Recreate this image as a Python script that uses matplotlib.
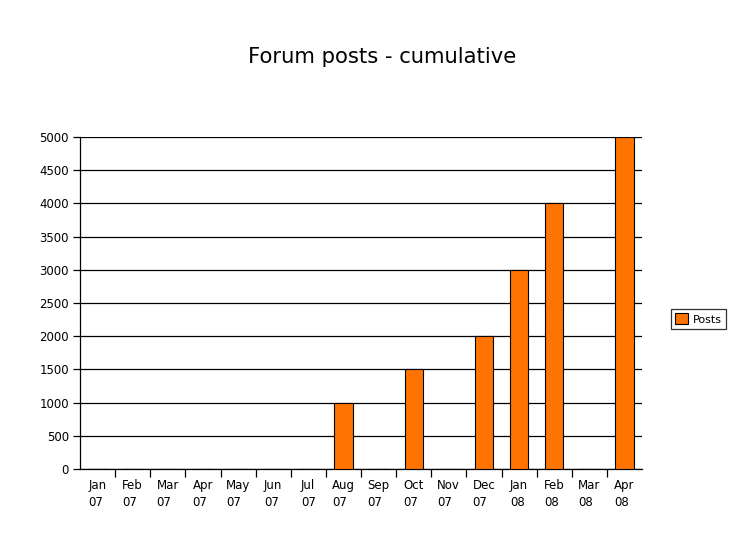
import numpy as np
import matplotlib.pyplot as plt
from matplotlib.ticker import FixedLocator, NullFormatter

# data
months = ["Jan\n07", "Feb\n07", "Mar\n07", "Apr\n07", "May\n07", "Jun\n07", "Jul\n07", "Aug\n07",
          "Sep\n07", "Oct\n07", "Nov\n07", "Dec\n07", "Jan\n08", "Feb\n08", "Mar\n08", "Apr\n08"]
posts = [0, 0, 0, 0, 0, 0, 0, 1000, 0, 1500, 0, 2000, 3000, 4000, 0, 5000]
y_ticks = list(range(0, 5001, 500))

plt.rcParams['font.family'] = ['DejaVu Sans']

fig = plt.figure(figsize=(7.56, 5.55), dpi=100)
ax = fig.add_axes([80 / 756, 1 - 469 / 555, 562 / 756, 332 / 555])

x = np.arange(len(months))
bars = ax.bar(x, posts, width=0.52, color="#ff7300", edgecolor="black", linewidth=0.8,
              label="Posts", zorder=3)

ax.set_xlim(-0.5, len(months) - 0.5)
ax.set_ylim(0, 5000)
ax.set_yticks(y_ticks)
ax.yaxis.grid(True, color="black", linewidth=0.9, zorder=0)
ax.tick_params(axis='y', labelsize=8.5, length=5, width=0.9, pad=3)

# category labels centred, ticks on the inner boundaries
ax.set_xticks(x)
ax.set_xticklabels(months, fontsize=8.5, multialignment='left', linespacing=1.45)
ax.tick_params(axis='x', which='major', length=0, pad=7)
ax.xaxis.set_minor_locator(FixedLocator(np.arange(0.5, len(months) - 1, 1.0)))
ax.xaxis.set_minor_formatter(NullFormatter())
ax.tick_params(axis='x', which='minor', length=6, width=0.9)

for s in ['top', 'right']:
    ax.spines[s].set_visible(False)
ax.spines['left'].set_linewidth(0.9)
ax.spines['bottom'].set_linewidth(0.9)

fig.text(382 / 756, 1 - 57 / 555, "Forum posts - cumulative", ha='center', va='center', fontsize=15.2)

leg = fig.legend(handles=[bars], labels=["Posts"], loc='center left',
                 bbox_to_anchor=(671 / 756, 1 - 319 / 555), fontsize=8, frameon=True,
                 fancybox=False, edgecolor='black', handlelength=1.1, handleheight=1.1,
                 handletextpad=0.45, borderpad=0.4, borderaxespad=0)
leg.get_frame().set_linewidth(0.9)

fig.savefig("out.png", dpi=100)
